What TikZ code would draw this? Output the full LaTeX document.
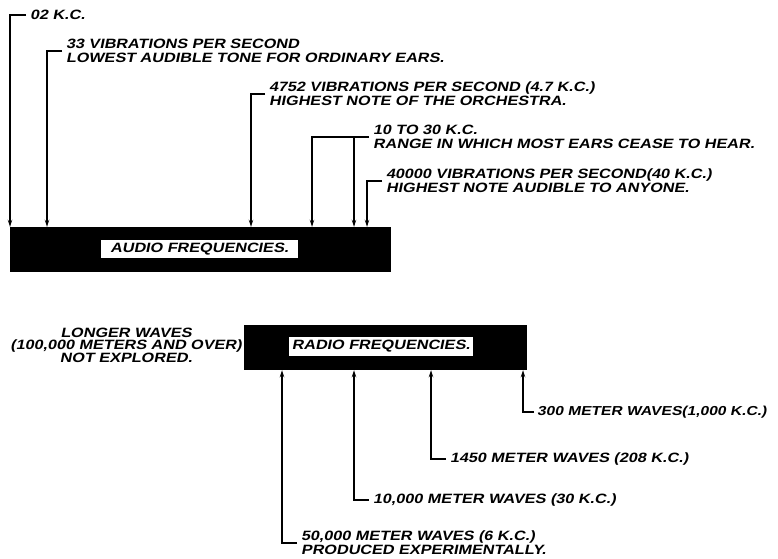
\documentclass[tikz,border=0pt]{standalone}
\usepackage{fontspec}
\newfontfamily\handfont[FakeSlant=0.2,FakeStretch=1.2]{Liberation Sans Bold}
\usetikzlibrary{arrows.meta}

\begin{document}
\begin{tikzpicture}[
            x=1pt, y=-1pt,
            >={Stealth[length=7pt,width=4.5pt]}, % 箭头样式
            bar/.style={fill=black, inner sep=0pt}, % 频段黑条
            barlabel/.style={fill=white, inner sep=0pt, font=\handfont\fontsize{13.5}{14}\selectfont}, % 黑条上的白框
            note/.style={anchor=west, align=left, inner xsep=4pt, inner ysep=0pt, font=\handfont\fontsize{13.5}{14}\selectfont}, % 标注文字
            lead/.style={line width=1.2pt} % 引线
        ]
        \useasboundingbox (0,0) rectangle (778,558);

        % 音频段
        \node[bar, minimum width=381, minimum height=45] (audio) at (200.5,249.5) {};
        \node[barlabel, minimum width=197, minimum height=18] (audiolbl) at (199.5,249) {AUDIO FREQUENCIES.};

        % 音频标注
        \coordinate (k02) at (10,15);
        \node[note] (t02) at (26,15) {02 K.C.};
        \draw[lead,->] (t02.west) -- (k02) -- (k02 |- audio.north);

        \coordinate (k33) at (47,51);
        \node[note] (t33) at (62,51) {33 VIBRATIONS PER SECOND\\LOWEST AUDIBLE TONE FOR ORDINARY EARS.};
        \draw[lead,->] (t33.west) -- (k33) -- (k33 |- audio.north);

        \coordinate (k4752) at (251,94);
        \node[note] (t4752) at (265,94) {4752 VIBRATIONS PER SECOND (4.7 K.C.)\\HIGHEST NOTE OF THE ORCHESTRA.};
        \draw[lead,->] (t4752.west) -- (k4752) -- (k4752 |- audio.north);

        \coordinate (k10) at (312,137);
        \coordinate (k30) at (354,137);
        \node[note] (t1030) at (369,137) {10 TO 30 K.C.\\RANGE IN WHICH MOST EARS CEASE TO HEAR.};
        \draw[lead,->] (t1030.west) -- (k10) -- (k10 |- audio.north);
        \draw[lead,->] (k30) -- (k30 |- audio.north);

        \coordinate (k40) at (367,181);
        \node[note] (t40) at (382,181) {40000 VIBRATIONS PER SECOND(40 K.C.)\\HIGHEST NOTE AUDIBLE TO ANYONE.};
        \draw[lead,->] (t40.west) -- (k40) -- (k40 |- audio.north);

        % 无线电段
        \node[bar, minimum width=283, minimum height=45] (radio) at (385.5,347.5) {};
        \node[barlabel, minimum width=184, minimum height=19] (radiolbl) at (381,346.5) {RADIO FREQUENCIES.};
        \node[anchor=east, align=center, inner sep=0pt, font=\handfont\fontsize{13.5}{12}\selectfont] (longer) at (242,345) {LONGER WAVES\\(100,000 METERS AND OVER)\\NOT EXPLORED.};

        % 无线电标注
        \coordinate (r300) at (523,412);
        \node[note, inner xsep=3pt, font=\handfont\fontsize{13}{14}\selectfont] (t300) at (534,412) {300 METER WAVES(1,000 K.C.)};
        \draw[lead,->] (t300.west) -- (r300) -- (r300 |- radio.south);

        \coordinate (r1450) at (431,459);
        \node[note] (t1450) at (446,459) {1450 METER WAVES (208 K.C.)};
        \draw[lead,->] (t1450.west) -- (r1450) -- (r1450 |- radio.south);

        \coordinate (r10000) at (354,500);
        \node[note] (t10000) at (369,500) {10,000 METER WAVES (30 K.C.)};
        \draw[lead,->] (t10000.west) -- (r10000) -- (r10000 |- radio.south);

        \coordinate (r50000) at (282,543);
        \node[note] (t50000) at (297,543) {50,000 METER WAVES (6 K.C.)\\PRODUCED EXPERIMENTALLY.};
        \draw[lead,->] (t50000.west) -- (r50000) -- (r50000 |- radio.south);

    \end{tikzpicture}
\end{document}
